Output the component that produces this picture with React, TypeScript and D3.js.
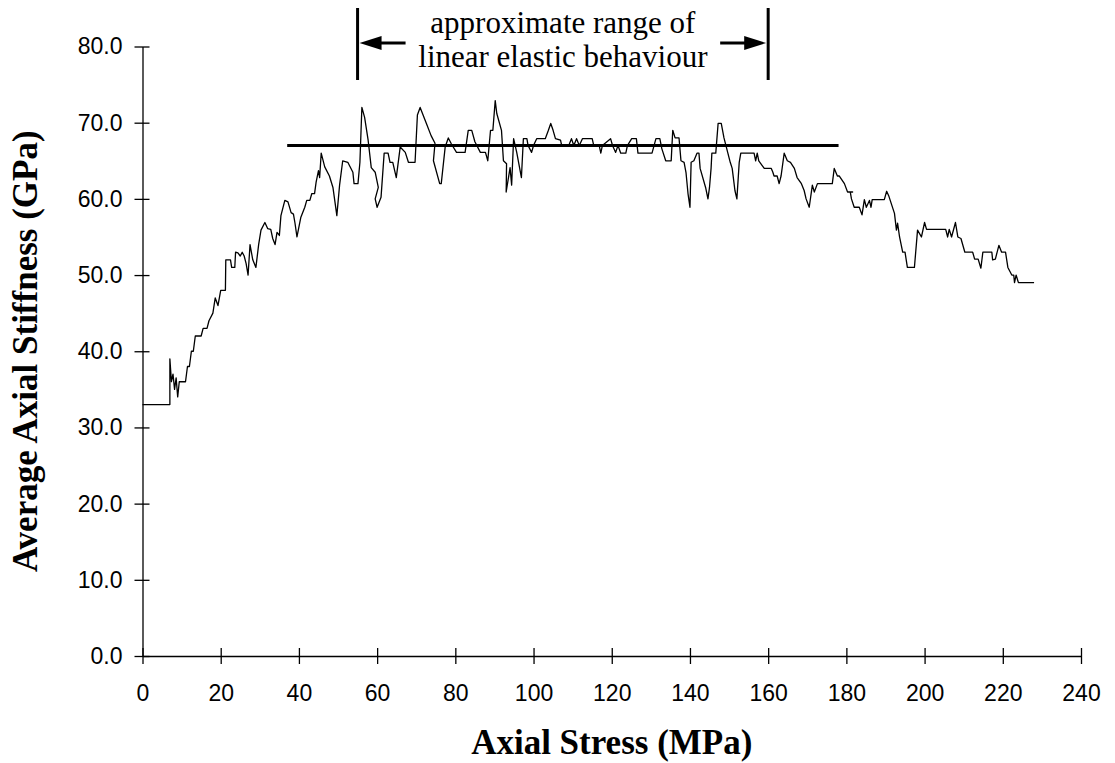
import * as d3 from 'd3';
import { useEffect, useRef } from 'react';

// stress (MPa), average axial stiffness (GPa)
const curve: [number, number][] = [
  [0, 33], [7, 33], [7, 39], [7.4, 36], [7.8, 37], [8.2, 35], [8.6, 36.5], [9, 34], [9.4, 36], [11, 36],
  [11.5, 38], [12, 38], [12.5, 40], [13, 40], [13.5, 42], [15, 42], [15.5, 43], [16.5, 43], [17, 44], [18, 45],
  [18.6, 47], [19.3, 46], [20, 48], [21.2, 48], [21.3, 52], [22.5, 52], [22.8, 51], [23.6, 51], [23.8, 53], [24.4, 52.9],
  [25, 52.5], [25.5, 53], [26, 52.5], [26.5, 51.5], [27, 50], [27.5, 54], [28.2, 52], [29, 51], [29.7, 54], [30.3, 55.9],
  [31.3, 56.9], [32, 56.1], [32.8, 56], [33.3, 54.8], [33.9, 54], [34.4, 55.6], [35, 55.2], [35.4, 57.8], [36.4, 59.8], [37.2, 59.6],
  [38, 58.2], [38.6, 58], [39, 56.8], [39.5, 55], [40.5, 57.6], [41.5, 58.9], [42, 59.8], [42.8, 59.8], [43.3, 60.7], [44, 60.7],
  [44.4, 62.2], [45, 63.7], [45.3, 62.8], [45.7, 66], [46.6, 64.2], [47.8, 63], [48.7, 61.5], [49.7, 57.8], [50.4, 61.8], [51.2, 65],
  [52.5, 64.8], [53.8, 63.5], [54.1, 62], [55.1, 62], [55.6, 64.8], [56.1, 72], [56.8, 70.7], [57.7, 67.7], [58.5, 64.1], [59.5, 63.5],
  [60.3, 61.5], [59.5, 60], [60, 58.9], [61, 60.2], [61.8, 66], [62.8, 66], [63.3, 64.8], [64, 64.8], [64.9, 62.8], [65.9, 66.8],
  [67.2, 66.1], [68, 64.8], [69.7, 64.8], [70.3, 71], [71, 72], [72.6, 69.9], [73.8, 68.3], [74.8, 67.3], [74.4, 65], [76, 62],
  [76.4, 62], [77.4, 66.8], [78.2, 68], [79, 67.2], [80.3, 66.1], [82.5, 66.1], [83.3, 69], [84.2, 69], [85, 67.5], [86.4, 66.1],
  [87.7, 66.1], [88.3, 65], [89, 69], [89.6, 69], [90.2, 72.9], [90.6, 71.2], [91.8, 69], [92.3, 65], [93.1, 64.6], [93, 60.9],
  [94, 64.1], [94.4, 61.8], [94.9, 67.9], [95.7, 66.1], [96.9, 62.8], [97.4, 67.9], [98.3, 67.9], [98.6, 67], [99.5, 66.1], [100, 67],
  [100.8, 67.9], [103, 67.9], [103.8, 69], [104.4, 69.9], [105, 69], [105.6, 67.9], [106.9, 67.7], [107.2, 67], [109, 67], [109.7, 67.9],
  [110.3, 67], [111, 67.9], [111.7, 67], [112.5, 67.9], [115, 67.9], [115.4, 67], [116.8, 67], [117.2, 66], [117.6, 67], [119.7, 67.9],
  [120.2, 67], [121, 66.1], [121.6, 67], [122.3, 66], [123.6, 66], [124, 67], [125.1, 67.9], [126.3, 67.9], [126.7, 66], [130.3, 66],
  [131.3, 67.9], [132.3, 67.9], [132.8, 66.6], [133.8, 65], [135.2, 65], [135.6, 69], [136.2, 68], [137.2, 68], [137.7, 65], [138.5, 64.8],
  [139, 63.4], [139.5, 60.7], [140, 58.9], [140.3, 64.8], [141, 65], [141.8, 66], [142.3, 66], [142.6, 64], [144, 61.5], [144.6, 60],
  [145, 61.5], [145.4, 64], [145.6, 66], [146.6, 66], [147.2, 69.9], [148, 69.9], [148.7, 68], [149.5, 66.4], [150.3, 64.8], [150.8, 64],
  [151.5, 61.1], [152, 60], [152.6, 64.8], [153, 66], [156.4, 66], [156.8, 65], [157.2, 66], [157.6, 65], [159, 64], [160.8, 64],
  [161.2, 63.5], [161.5, 63], [162.3, 63], [162.8, 62], [163.3, 63], [164.1, 66], [164.9, 65], [165.7, 64.8], [166.7, 64], [167.4, 62.8],
  [168.5, 62], [169.2, 61.1], [169.7, 60], [170.5, 58.9], [171.3, 61.8], [171.8, 60.9], [172.6, 62], [176.4, 62], [176.9, 64], [177.7, 63],
  [178.2, 63], [179.5, 62], [180.3, 60.9], [181.6, 60.9], [181, 60.9], [181.3, 60], [182, 58.9], [183.3, 58.9], [184, 57.9], [184.6, 59.9],
  [185.1, 58.9], [185.9, 59.8], [186.3, 58.9], [186.6, 59.9], [189.7, 59.9], [190.3, 61], [190.9, 60.3], [192.3, 58.1], [192.8, 55.9], [193.1, 56.8],
  [193.6, 55], [194.4, 53], [195, 53], [195.6, 51], [197.4, 51], [198.2, 55.9], [199.2, 55], [200, 56.9], [200.5, 56], [205.4, 56],
  [205.9, 55], [206.3, 56], [206.9, 55], [207.9, 56.9], [208.5, 55], [209.3, 54.8], [210.3, 53], [212.3, 53], [212.8, 52.1], [213.7, 52.1],
  [214.4, 50.9], [214.9, 53], [217.2, 53], [217.4, 52], [218.1, 52.1], [219, 53.9], [219.7, 53], [220.7, 53], [221.3, 51], [222.3, 50],
  [222.8, 50], [223, 49], [223.4, 50], [224, 49], [228, 49],
];

const fitLine: [number, number][] = [[37, 67], [178, 67]];
const elasticRange = [55, 160];
const xTicks = [0, 20, 40, 60, 80, 100, 120, 140, 160, 180, 200, 220, 240];
const yTicks = [0, 10, 20, 30, 40, 50, 60, 70, 80];
const rangeLabel = ['approximate range of', 'linear elastic behaviour'];

function Chart() {
  const svgRef = useRef<SVGSVGElement>(null);

  useEffect(() => {
    const width = 1115;
    const height = 763;
    const svg = d3.select(svgRef.current);
    svg.selectAll('*').remove();

    const x = d3.scaleLinear().domain([0, 240]).range([142.5, 1081]);
    const y = d3.scaleLinear().domain([0, 80]).range([656, 46.5]);

    const tickFont = '"Liberation Sans", Arial, sans-serif';
    const serif = '"Liberation Serif", "Times New Roman", serif';

    // x axis
    const gx = svg.append('g')
      .attr('transform', `translate(0,${y(0)})`)
      .call(d3.axisBottom(x).tickValues(xTicks).tickSize(8).tickPadding(21).tickSizeOuter(0));
    gx.select('.domain').attr('stroke', '#000').attr('stroke-width', 1.3);
    gx.selectAll('.tick line').attr('y1', -8).attr('y2', 8).attr('stroke-width', 1.3);
    gx.selectAll('.tick text').attr('font-family', tickFont).attr('font-size', 23).attr('fill', '#000');

    // y axis
    const gy = svg.append('g')
      .attr('transform', `translate(${x(0)},0)`)
      .call(d3.axisLeft(y).tickValues(yTicks).tickFormat(d3.format('.1f')).tickSize(8).tickPadding(12).tickSizeOuter(0));
    gy.select('.domain').attr('stroke', '#000').attr('stroke-width', 1.3);
    gy.selectAll('.tick line').attr('x1', -8).attr('x2', 7).attr('stroke-width', 1.3);
    gy.selectAll('.tick text').attr('font-family', tickFont).attr('font-size', 23).attr('fill', '#000');

    // data trace
    const line = d3.line<[number, number]>().x(d => x(d[0])).y(d => y(d[1]));
    svg.append('path')
      .datum(curve)
      .attr('fill', 'none')
      .attr('stroke', '#000')
      .attr('stroke-width', 1.3)
      .attr('stroke-linejoin', 'round')
      .attr('d', line);

    svg.append('path')
      .datum(fitLine)
      .attr('fill', 'none')
      .attr('stroke', '#000')
      .attr('stroke-width', 3)
      .attr('d', line);

    // elastic range annotation
    const [xa, xb] = elasticRange.map(v => x(v));
    const arrowY = 43;
    svg.selectAll('.bound')
      .data([xa, xb])
      .join('line')
      .attr('x1', d => d).attr('x2', d => d)
      .attr('y1', 8).attr('y2', 80)
      .attr('stroke', '#000').attr('stroke-width', 3);

    svg.append('line')
      .attr('x1', xa + 18).attr('x2', xa + 48)
      .attr('y1', arrowY).attr('y2', arrowY)
      .attr('stroke', '#000').attr('stroke-width', 3);
    svg.append('path')
      .attr('d', `M${xa + 2},${arrowY} L${xa + 24},${arrowY - 7} L${xa + 24},${arrowY + 7} Z`)
      .attr('fill', '#000');
    svg.append('line')
      .attr('x1', xb - 48).attr('x2', xb - 18)
      .attr('y1', arrowY).attr('y2', arrowY)
      .attr('stroke', '#000').attr('stroke-width', 3);
    svg.append('path')
      .attr('d', `M${xb - 2},${arrowY} L${xb - 24},${arrowY - 7} L${xb - 24},${arrowY + 7} Z`)
      .attr('fill', '#000');

    svg.selectAll('.rangeLabel')
      .data(rangeLabel)
      .join('text')
      .attr('x', (xa + xb) / 2)
      .attr('y', (d, i) => 33 + i * 34)
      .attr('text-anchor', 'middle')
      .attr('font-family', serif)
      .attr('font-size', 31)
      .text(d => d);

    // axis titles
    svg.append('text')
      .attr('x', (x(0) + x(240)) / 2)
      .attr('y', 754)
      .attr('text-anchor', 'middle')
      .attr('font-family', serif)
      .attr('font-weight', 'bold')
      .attr('font-size', 35)
      .text('Axial Stress (MPa)');

    svg.append('text')
      .attr('transform', `translate(37,${(y(0) + y(80)) / 2}) rotate(-90)`)
      .attr('text-anchor', 'middle')
      .attr('font-family', serif)
      .attr('font-weight', 'bold')
      .attr('font-size', 35)
      .text('Average Axial Stiffness (GPa)');

    svg.attr('width', width).attr('height', height);
  }, []);

  return (
    <svg
      ref={svgRef}
      width={1115}
      height={763}
      style={{ position: 'absolute', top: 0, left: 0, background: '#fff' }}
    />
  );
}

export default function App() {
  return <Chart />;
}
